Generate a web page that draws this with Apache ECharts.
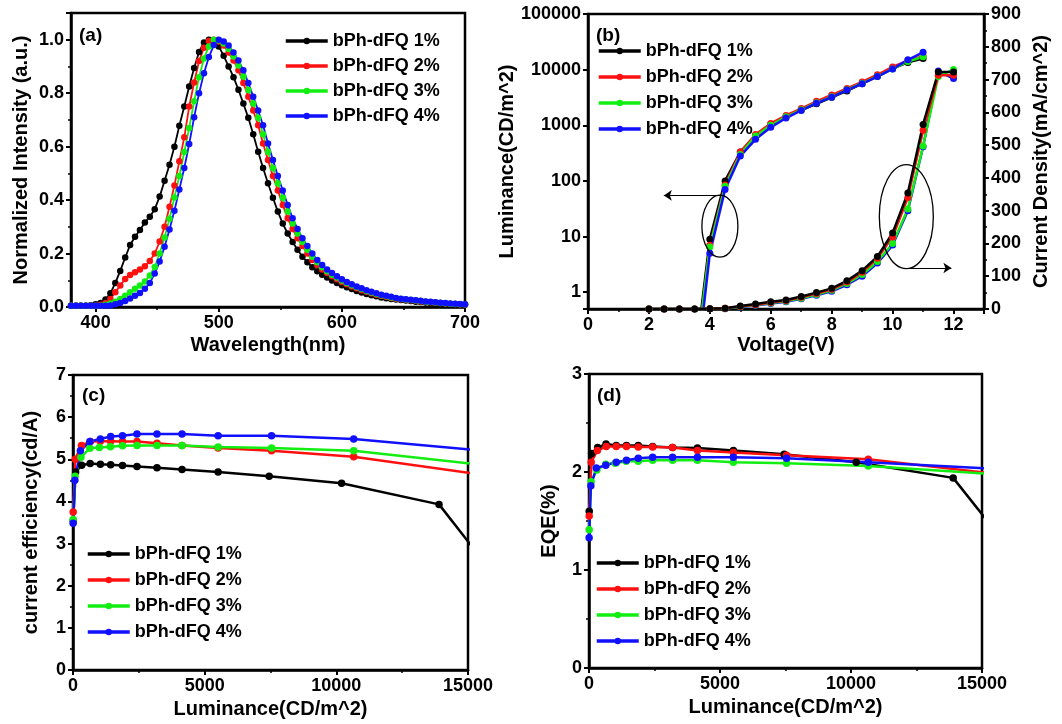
<!DOCTYPE html>
<html>
<head>
<meta charset="utf-8">
<script src="https://cdn.jsdelivr.net/npm/echarts@6/dist/echarts.min.js"></script>
<style>
  html, body { margin: 0; background: #fff; }
  #main { width: 1062px; height: 724px; }
</style>
</head>
<body>
<div id="main"></div>
<script>
const names = ['bPh-dFQ 1%', 'bPh-dFQ 2%', 'bPh-dFQ 3%', 'bPh-dFQ 4%'];
const colors = ['#000000', '#ff1010', '#12ee12', '#1010ff'];

// (a) PL spectra
const wavelength = [380,384,388,392,396,400,404,408,412,416,420,424,428,432,436,440,444,448,452,456,
  460,464,468,472,476,480,484,488,492,496,500,504,508,512,516,520,524,528,532,536,
  540,544,548,552,556,560,564,568,572,576,580,584,588,592,596,600,604,608,612,616,
  620,624,628,632,636,640,644,648,652,656,660,664,668,672,676,680,684,688,692,696,700];
const pl1 = [0.005,0.005,0.005,0.005,0.007,0.01,0.015,0.028,0.051,0.09,
  0.135,0.185,0.232,0.263,0.288,0.316,0.338,0.366,0.413,0.472,
  0.532,0.6,0.678,0.75,0.825,0.894,0.954,0.99,1.0,0.99,
  0.975,0.94,0.9,0.86,0.813,0.761,0.708,0.646,0.581,0.52,
  0.463,0.409,0.357,0.312,0.275,0.243,0.214,0.188,0.167,0.149,
  0.134,0.121,0.11,0.099,0.09,0.081,0.074,0.067,0.06,0.054,
  0.049,0.044,0.04,0.036,0.033,0.03,0.028,0.026,0.024,0.022,
  0.02,0.019,0.017,0.015,0.014,0.012,0.011,0.01,0.009,0.008,0.008];
const pl2 = [0.005,0.005,0.005,0.005,0.005,0.006,0.008,0.015,0.03,0.055,
  0.08,0.105,0.12,0.13,0.14,0.152,0.172,0.2,0.245,0.3,
  0.375,0.455,0.545,0.635,0.75,0.84,0.92,0.97,0.995,1.0,
  0.993,0.978,0.952,0.922,0.886,0.838,0.787,0.735,0.68,0.612,
  0.55,0.49,0.436,0.382,0.332,0.292,0.257,0.228,0.2,0.176,
  0.157,0.14,0.127,0.115,0.104,0.094,0.085,0.077,0.07,0.063,
  0.057,0.051,0.046,0.042,0.038,0.034,0.031,0.029,0.027,0.025,
  0.023,0.021,0.02,0.018,0.016,0.015,0.013,0.012,0.011,0.01,0.009];
const pl3 = [0.005,0.005,0.005,0.005,0.005,0.005,0.005,0.008,0.013,0.02,
  0.03,0.042,0.055,0.068,0.08,0.095,0.118,0.15,0.2,0.26,
  0.33,0.41,0.49,0.58,0.67,0.77,0.86,0.93,0.975,1.0,
  0.997,0.986,0.965,0.937,0.904,0.862,0.812,0.761,0.708,0.646,
  0.581,0.52,0.463,0.409,0.357,0.312,0.275,0.243,0.214,0.188,
  0.167,0.149,0.134,0.121,0.11,0.099,0.09,0.081,0.074,0.067,
  0.06,0.054,0.049,0.044,0.04,0.036,0.033,0.03,0.028,0.026,
  0.024,0.022,0.02,0.019,0.017,0.015,0.014,0.012,0.011,0.01,0.01];
const pl4 = [0.005,0.005,0.005,0.005,0.005,0.005,0.005,0.005,0.006,0.01,
  0.015,0.022,0.032,0.042,0.052,0.068,0.09,0.125,0.17,0.225,
  0.29,0.36,0.44,0.52,0.61,0.71,0.8,0.875,0.935,0.98,
  1.0,0.993,0.978,0.952,0.922,0.886,0.838,0.787,0.735,0.68,
  0.612,0.55,0.49,0.436,0.382,0.332,0.292,0.257,0.228,0.2,
  0.176,0.157,0.14,0.127,0.115,0.104,0.094,0.085,0.077,0.07,
  0.063,0.057,0.051,0.046,0.042,0.038,0.034,0.031,0.029,0.027,
  0.025,0.023,0.021,0.02,0.018,0.016,0.015,0.013,0.012,0.011,0.01];

// (b) J-V-L
const voltage = [2,2.5,3,3.5,4,4.5,5,5.5,6,6.5,7,7.5,8,8.5,9,9.5,10,10.5,11,11.5,12];
const lum1 = [null,null,null,0.05,9,100,330,650,1040,1430,1880,2430,3190,4140,5600,7600,10500,13500,15800,null,null];
const lum2 = [null,null,null,0.03,7,85,330,680,1080,1500,2000,2700,3500,4600,6000,8100,11200,14500,17500,null,null];
const lum3 = [null,null,null,0.04,6.5,80,300,640,1000,1420,1900,2550,3250,4350,5700,7600,10300,14000,17000,null,null];
const lum4 = [null,null,null,0.02,5,70,280,560,920,1350,1850,2500,3200,4300,5600,7500,10300,15000,20500,null,null];
const jd1 = [0,0,0,0,1,2,9,15,22,27.5,38,50,63,86,117,160,232,354,563,723,723];
const jd2 = [0,0,0,0,1,2,8,13,20,26,36,47,60,82,112,155,220,340,545,713,713];
const jd3 = [0,0,0,0,1,1.5,7,12,18,24,33,44,57,78,105,145,200,305,497,709,731];
const jd4 = [0,0,0,0,0.5,1,6,11,17,22,31,42,54,74,100,140,195,300,495,726,703];

// (c)/(d) efficiency vs luminance
const lumE1 = [9,100,330,650,1040,1430,1880,2430,3190,4140,5510,7450,10200,13900,15800];
const ce1 = [3.55,4.7,4.86,4.9,4.88,4.87,4.85,4.83,4.8,4.76,4.7,4.6,4.43,3.93,2.41];
const eqe1 = [1.6,2.19,2.25,2.285,2.27,2.27,2.27,2.26,2.25,2.245,2.22,2.18,2.1,1.94,1.3];
const lumE2 = [7,85,320,660,1040,1430,1880,2430,3190,4140,5510,7540,10660,16500];
const ce2 = [3.75,5.0,5.33,5.42,5.43,5.43,5.42,5.42,5.38,5.33,5.27,5.2,5.06,4.55];
const eqe2 = [1.55,2.1,2.22,2.26,2.26,2.26,2.255,2.255,2.25,2.22,2.2,2.17,2.13,1.95];
const lumE3 = [6.5,80,300,640,1000,1420,1880,2430,3190,4140,5510,7540,10660,16500];
const ce3 = [3.57,4.6,5.05,5.26,5.28,5.3,5.32,5.33,5.33,5.33,5.29,5.27,5.2,4.8];
const eqe3 = [1.41,1.9,2.02,2.08,2.09,2.11,2.11,2.12,2.12,2.12,2.1,2.09,2.06,1.96];
const lumE4 = [5,70,280,640,1040,1430,1880,2430,3190,4140,5510,7540,10660,16500];
const ce4 = [3.48,4.5,5.2,5.42,5.48,5.54,5.56,5.6,5.6,5.6,5.56,5.56,5.48,5.15];
const eqe4 = [1.33,1.86,2.04,2.07,2.1,2.12,2.14,2.15,2.15,2.15,2.15,2.14,2.1,2.02];

const font = '"Liberation Sans", Arial, sans-serif';
const pairs = (xs, ys) => xs.map((x, i) => [x, ys[i]]);

const lab = { color: '#000', fontFamily: font, fontWeight: 'bold', fontSize: 18, margin: 7 };
const nameStyle = { color: '#000', fontFamily: font, fontWeight: 'bold', fontSize: 20 };
const line = { show: true, onZero: false, lineStyle: { color: '#000', width: 2.5 } };
const tick = { show: true, length: 5, lineStyle: { color: '#000', width: 2 } };
const minor = { show: true, splitNumber: 2, length: 3, lineStyle: { color: '#000', width: 1.5 } };

function axis(o) {
  return Object.assign({
    type: 'value', axisLine: line, axisTick: tick, minorTick: minor,
    axisLabel: lab, splitLine: { show: false },
    nameLocation: 'middle', nameTextStyle: nameStyle,
  }, o);
}

function ser(i, x, y, data, size, width, extra) {
  return Object.assign({
    name: names[i], type: 'line', xAxisIndex: x, yAxisIndex: y, data: data,
    symbol: 'circle', symbolSize: size, showSymbol: true,
    color: colors[i], itemStyle: { color: colors[i] },
    lineStyle: { color: colors[i], width: width },
    emphasis: { disabled: true }, clip: true,
  }, extra || {});
}

function legend(left, top, gap) {
  return {
    data: names, left: left, top: top, orient: 'vertical', padding: 0,
    itemWidth: 42, itemHeight: 8, itemGap: gap, selectedMode: false,
    lineStyle: { width: 3.5 },
    textStyle: { color: '#000', fontFamily: font, fontWeight: 'bold', fontSize: 18, lineHeight: 16 },
  };
}

const panelText = { color: '#000', fontFamily: font, fontWeight: 'bold', fontSize: 19 };
const gridBox = { show: true, borderColor: '#000', borderWidth: 2.5, containLabel: false };
const plain = Object.assign({ formatter: (v) => String(v) }, lab);

const pl = [pl1, pl2, pl3, pl4];
const lums = [lum1, lum2, lum3, lum4];
const jds = [jd1, jd2, jd3, jd4];
const lumE = [lumE1, lumE2, lumE3, lumE4];
const ces = [ce1, ce2, ce3, ce4];
const eqes = [eqe1, eqe2, eqe3, eqe4];

const series = [];
for (let i = 0; i < 4; i++) series.push(ser(i, 0, 0, pairs(wavelength, pl[i]), 6.5, 1.8));
for (let i = 0; i < 4; i++) series.push(ser(i, 2, 1, pairs(voltage, lums[i]), 7, 2.5));
for (let i = 3; i >= 0; i--) series.push(ser(i, 2, 2, pairs(voltage, jds[i]), 7, 2.5));
for (let i = 0; i < 4; i++) series.push(ser(i, 3, 3, pairs(lumE[i], ces[i]), 7.5, 2.5));
for (let i = 0; i < 4; i++) series.push(ser(i, 4, 4, pairs(lumE[i], eqes[i]), 7.5, 2.5));

// arrows in panel (b)
const arrow = {
  silent: true, symbol: ['none', 'arrow'], symbolSize: 8,
  lineStyle: { color: '#000', width: 1.2, type: 'solid' }, label: { show: false },
};
series[4].markLine = Object.assign({ data: [[{ coord: [4.39, 55] }, { coord: [2.49, 55] }]] }, arrow);
series[11].markLine = Object.assign({ data: [[{ coord: [10.36, 125] }, { coord: [11.93, 125] }]] }, arrow);

const option = {
  animation: false,
  backgroundColor: '#fff',
  textStyle: { fontFamily: font },
  title: [
    { text: '(a)', left: 79, top: 26, padding: 0, textStyle: panelText },
    { text: '(b)', left: 596, top: 26, padding: 0, textStyle: panelText },
    { text: '(c)', left: 82, top: 386, padding: 0, textStyle: panelText },
    { text: '(d)', left: 597, top: 386, padding: 0, textStyle: panelText },
  ],
  legend: [legend(284, 32, 7), legend(597, 42, 8), legend(86, 545, 8), legend(595, 554, 8)],
  grid: [
    Object.assign({ left: 71, top: 13, width: 394, height: 294 }, gridBox),
    Object.assign({ left: 588, top: 14, width: 396, height: 295 }, gridBox),
    Object.assign({ left: 73, top: 375, width: 395, height: 295 }, gridBox),
    Object.assign({ left: 589, top: 374, width: 393, height: 294 }, gridBox),
  ],
  xAxis: [
    axis({ gridIndex: 0, min: 380, max: 700, name: 'Wavelength(nm)', nameGap: 28,
      axisTick: Object.assign({ customValues: [400, 500, 600, 700] }, tick),
      axisLabel: Object.assign({ customValues: [400, 500, 600, 700] }, plain),
      minorTick: { show: false } }),
    { type: 'value', gridIndex: 0, min: 380, max: 700, position: 'bottom',
      axisLine: { show: false }, axisLabel: { show: false }, splitLine: { show: false },
      axisTick: { show: true, length: 3, customValues: [450, 550, 650], lineStyle: { color: '#000', width: 1.5 } } },
    axis({ gridIndex: 1, min: 0, max: 13, interval: 2, name: 'Voltage(V)', nameGap: 26,
      axisLabel: Object.assign({ showMaxLabel: false }, plain) }),
    axis({ gridIndex: 2, min: 0, max: 15000, interval: 5000, name: 'Luminance(CD/m^2)', nameGap: 29,
      axisLabel: plain }),
    axis({ gridIndex: 3, min: 0, max: 15000, interval: 5000, name: 'Luminance(CD/m^2)', nameGap: 29,
      axisLabel: plain }),
  ],
  yAxis: [
    axis({ gridIndex: 0, min: 0, max: 1.1, interval: 0.2, name: 'Normalized Intensity (a.u.)', nameGap: 40,
      axisLabel: Object.assign({ showMaxLabel: false, formatter: (v) => v.toFixed(1) }, lab) }),
    axis({ gridIndex: 1, type: 'log', logBase: 10, min: 0.5, max: 100000, name: 'Luminance(CD/m^2)', nameGap: 70,
      minorTick: { show: false },
      axisLabel: Object.assign({ formatter: (v) => (v < 0.99 ? '' : String(Math.round(v))) }, lab) }),
    axis({ gridIndex: 1, position: 'right', min: 0, max: 900, interval: 100,
      name: 'Current Density(mA/cm^2)', nameGap: 47, axisLabel: plain }),
    axis({ gridIndex: 2, min: 0, max: 7, interval: 1, name: 'current efficiency(cd/A)', nameGap: 32,
      axisLabel: plain }),
    axis({ gridIndex: 3, min: 0, max: 3, interval: 1, name: 'EQE(%)', nameGap: 30, axisLabel: plain }),
  ],
  series: series,
};

const chart = echarts.init(document.getElementById('main'), null, { renderer: 'canvas' });
chart.setOption(option);

// ellipses marking the two curve groups in (b)
const e1 = chart.convertToPixel({ xAxisIndex: 2, yAxisIndex: 1 }, [4.33, 15.4]);
const e2 = chart.convertToPixel({ xAxisIndex: 2, yAxisIndex: 2 }, [10.45, 282]);
chart.setOption({
  graphic: [
    { type: 'ellipse', silent: true, z: 100, shape: { cx: e1[0], cy: e1[1], rx: 18, ry: 31 },
      style: { fill: 'none', stroke: '#000', lineWidth: 1.3 } },
    { type: 'ellipse', silent: true, z: 100, shape: { cx: e2[0], cy: e2[1], rx: 27, ry: 52 },
      style: { fill: 'none', stroke: '#000', lineWidth: 1.3 } },
  ],
});
</script>
</body>
</html>
